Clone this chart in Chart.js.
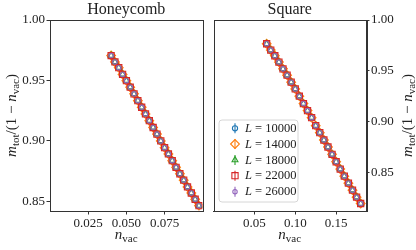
<!DOCTYPE html>
<html><head><meta charset="utf-8">
<script src="https://cdn.jsdelivr.net/npm/chart.js@4.4.1/dist/chart.umd.min.js"></script>
<style>
html,body{margin:0;padding:0;background:#fff;}
#wrap{position:relative;width:416px;height:250px;overflow:hidden;background:#fff;}
canvas{position:absolute;top:0;}
#cA{left:0;} #cB{left:208px;}
</style></head><body>
<div id="wrap"><canvas id="cA" width="208" height="250"></canvas><canvas id="cB" width="208" height="250"></canvas></div>
<script>
// ---- data ----
const systemSizes = [10000, 14000, 18000, 22000, 26000];
const panelTitles = ['Honeycomb', 'Square'];

const honeycombNvac = [0.0400, 0.0425, 0.0450, 0.0475, 0.0500, 0.0525, 0.0550, 0.0575,
  0.0600, 0.0625, 0.0650, 0.0675, 0.0700, 0.0725, 0.0750, 0.0775, 0.0800, 0.0825,
  0.0850, 0.0875, 0.0900, 0.0925, 0.0950, 0.0975];
const honeycombRatio = [0.9706, 0.9653, 0.9606, 0.9550, 0.9498, 0.9444, 0.9389, 0.9333,
  0.9278, 0.9223, 0.9167, 0.9111, 0.9056, 0.9000, 0.8944, 0.8892, 0.8836, 0.8781,
  0.8728, 0.8675, 0.8619, 0.8569, 0.8517, 0.8464];

const squareNvac = [0.065, 0.070, 0.075, 0.080, 0.085, 0.090, 0.095, 0.100,
  0.105, 0.110, 0.115, 0.120, 0.125, 0.130, 0.135, 0.140, 0.145, 0.150,
  0.155, 0.160, 0.165, 0.170, 0.175, 0.180];
const squareRatio = [0.9766, 0.9704, 0.9648, 0.9586, 0.9519, 0.9457, 0.9388, 0.9322,
  0.9250, 0.9177, 0.9108, 0.9039, 0.8960, 0.8891, 0.8819, 0.8750, 0.8678, 0.8605,
  0.8533, 0.8463, 0.8394, 0.8325, 0.8256, 0.8194];

const honeycombXTicks = [0.025, 0.050, 0.075];
const squareXTicks = [0.05, 0.10, 0.15];
const ratioTicks = [0.85, 0.90, 0.95, 1.00];

// ---- styling ----
const FONT = '"Liberation Serif", "DejaVu Serif", serif';
const INK = '#222';
const colors = ['#1f77b4', '#ff7f0e', '#2ca02c', '#d62728', '#9467bd'];
const markers = [
  {s: 'circle', r: 2.6}, {s: 'rectRot', r: 4.4}, {s: 'triangle', r: 3.4},
  {s: 'rect', r: 4.4}, {s: 'circle', r: 2.2}
];

function drawMarker(ctx, style, r, x, y) {
  if (Chart.helpers && Chart.helpers.drawPoint) {
    Chart.helpers.drawPoint(ctx, {pointStyle: style, radius: r, rotation: 0, borderWidth: 1.1}, x, y);
    return;
  }
  ctx.beginPath(); ctx.arc(x, y, r, 0, Math.PI * 2); ctx.stroke();
}

const framePlugin = {
  id: 'frame',
  afterDraw(chart) {
    const a = chart.chartArea, ctx = chart.ctx;
    ctx.save();
    ctx.strokeStyle = '#333'; ctx.lineWidth = 1;
    ctx.strokeRect(Math.round(a.left) + 0.5, Math.round(a.top) + 0.5,
      Math.round(a.right - a.left), Math.round(a.bottom - a.top));
    ctx.restore();
  }
};

function drawPieces(ctx, pieces, startX, baseY) {
  let x = startX;
  pieces.forEach(p => {
    ctx.font = (p.it ? 'italic ' : '') + p.sz + 'px ' + FONT;
    ctx.fillText(p.t, x, baseY + (p.dy || 0));
    x += ctx.measureText(p.t).width;
  });
}
function piecesWidth(ctx, pieces) {
  let w = 0;
  pieces.forEach(p => { ctx.font = (p.it ? 'italic ' : '') + p.sz + 'px ' + FONT; w += ctx.measureText(p.t).width; });
  return w;
}

const xLabelPieces = [{t: 'n', it: true, sz: 15}, {t: 'vac', sz: 11, dy: 3}];
const yLabelPieces = [{t: 'm', it: true, sz: 15}, {t: 'tot', sz: 11, dy: 3}, {t: '/(1 \u2212 ', sz: 15},
  {t: 'n', it: true, sz: 15}, {t: 'vac', sz: 11, dy: 3}, {t: ')', sz: 15}];

const axisLabelPlugin = {
  id: 'axisLabels',
  afterDraw(chart, args, opts) {
    const a = chart.chartArea, ctx = chart.ctx;
    ctx.save();
    ctx.fillStyle = INK; ctx.textBaseline = 'alphabetic'; ctx.textAlign = 'left';
    const cx = (a.left + a.right) / 2;
    const wx = piecesWidth(ctx, xLabelPieces);
    drawPieces(ctx, xLabelPieces, cx - wx / 2, 239);
    const cy = (a.top + a.bottom) / 2;
    ctx.translate(opts.yLabelX, cy);
    ctx.rotate(-Math.PI / 2);
    const wy = piecesWidth(ctx, yLabelPieces);
    drawPieces(ctx, yLabelPieces, -wy / 2, 0);
    ctx.restore();
  }
};

const legendPlugin = {
  id: 'boxLegend',
  afterDraw(chart, args, opts) {
    if (!opts.show) return;
    const ctx = chart.ctx;
    ctx.save();
    const bx = 11, by = 120, bw = 79, bh = 82, rr = 3;
    ctx.beginPath();
    ctx.moveTo(bx + rr, by); ctx.lineTo(bx + bw - rr, by); ctx.quadraticCurveTo(bx + bw, by, bx + bw, by + rr);
    ctx.lineTo(bx + bw, by + bh - rr); ctx.quadraticCurveTo(bx + bw, by + bh, bx + bw - rr, by + bh);
    ctx.lineTo(bx + rr, by + bh); ctx.quadraticCurveTo(bx, by + bh, bx, by + bh - rr);
    ctx.lineTo(bx, by + rr); ctx.quadraticCurveTo(bx, by, bx + rr, by);
    ctx.fillStyle = 'rgba(255,255,255,0.85)'; ctx.fill();
    ctx.strokeStyle = '#d6d6d6'; ctx.lineWidth = 1; ctx.stroke();
    const rows = [128.3, 144, 160, 175.7, 191.7];
    chart.data.datasets.forEach((ds, i) => {
      const y = rows[i], mx = 27;
      ctx.strokeStyle = colors[i]; ctx.fillStyle = 'rgba(0,0,0,0)'; ctx.lineWidth = 1.1;
      ctx.beginPath(); ctx.moveTo(mx, y - 5); ctx.lineTo(mx, y + 5); ctx.stroke();
      drawMarker(ctx, markers[i].s, markers[i].r, mx, y);
      ctx.fillStyle = INK; ctx.textBaseline = 'middle'; ctx.textAlign = 'left';
      drawPieces(ctx, [{t: 'L', it: true, sz: 12.5}, {t: ' = ' + systemSizes[i], sz: 12.5}], 37, y + 0.5);
    });
    ctx.restore();
  }
};

function makeChart(id, cfg) {
  const datasets = systemSizes.map((L, i) => ({
    label: 'L = ' + L,
    data: cfg.x.map((xv, k) => ({x: xv, y: cfg.y[k]})),
    showLine: false,
    pointStyle: markers[i].s,
    pointRadius: markers[i].r,
    pointBorderColor: colors[i],
    borderColor: colors[i],
    pointBackgroundColor: 'rgba(0,0,0,0)',
    backgroundColor: 'rgba(0,0,0,0)',
    pointBorderWidth: 1.1,
    order: systemSizes.length - i
  }));
  const tickFont = {family: FONT, size: 13};
  const grid = {drawOnChartArea: false, drawTicks: true, tickLength: 3.5, color: '#333', tickColor: '#333'};
  return new Chart(document.getElementById(id), {
    type: 'scatter',
    data: {datasets},
    options: {
      responsive: false, animation: false, devicePixelRatio: 1,
      layout: {padding: cfg.padding},
      events: [],
      plugins: {
        legend: {display: false}, tooltip: {enabled: false},
        title: {display: true, text: cfg.title, color: INK, fullSize: false, align: 'center',
          font: {family: FONT, size: 16, weight: 'normal'}, padding: {top: 0.5, bottom: 0.3}},
        axisLabels: {yLabelX: cfg.yLabelX},
        boxLegend: {show: cfg.legend}
      },
      scales: {
        x: {
          type: 'linear', position: 'bottom', min: cfg.xmin, max: cfg.xmax,
          afterBuildTicks: s => { s.ticks = cfg.xticks.map(v => ({value: v})); },
          afterFit: s => { s.height = 39; },
          ticks: {font: tickFont, color: INK, padding: 1, autoSkip: false, maxRotation: 0,
            callback: v => v.toFixed(cfg.xdec)},
          grid: grid, border: {display: true, color: '#333', width: 1}
        },
        y: {
          type: 'linear', position: cfg.yPos, min: cfg.ymin, max: cfg.ymax,
          afterBuildTicks: s => { s.ticks = ratioTicks.map(v => ({value: v})); },
          afterFit: s => { s.width = 50; },
          ticks: {font: tickFont, color: INK, padding: 1.5, autoSkip: false,
            callback: v => v.toFixed(2)},
          grid: grid, border: {display: true, color: '#333', width: 1}
        }
      }
    },
    plugins: [framePlugin, axisLabelPlugin, legendPlugin]
  });
}

makeChart('cA', {
  title: panelTitles[0], x: honeycombNvac, y: honeycombRatio,
  xmin: 0.0, xmax: 0.0998, xticks: honeycombXTicks, xdec: 3,
  ymin: 0.842, ymax: 1.0, yPos: 'left',
  padding: {left: 0, right: 5, top: 0, bottom: 0}, yLabelX: 16, legend: false
});
makeChart('cB', {
  title: panelTitles[1], x: squareNvac, y: squareRatio,
  xmin: 0.0, xmax: 0.1865, xticks: squareXTicks, xdec: 2,
  ymin: 0.812, ymax: 1.0, yPos: 'right',
  padding: {left: 4, right: 0, top: 0, bottom: 0}, yLabelX: 412 - 208, legend: true
});
</script>
</body></html>
